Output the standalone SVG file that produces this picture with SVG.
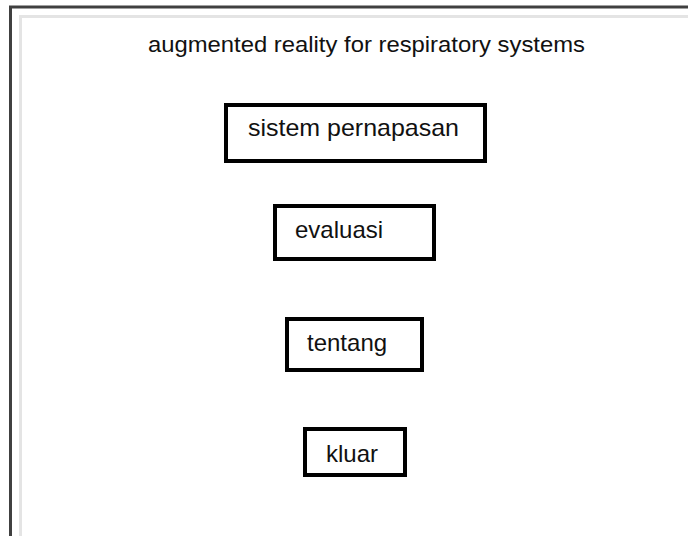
<svg xmlns="http://www.w3.org/2000/svg" width="688" height="536" viewBox="0 0 688 536">
<style>
.frame-outer{fill:none;stroke:#404040;stroke-width:3}
.frame-inner{fill:none;stroke:#e4e4e4;stroke-width:3}
.node rect{fill:#ffffff;stroke:#000000;stroke-width:4}
.node text{font-family:"Liberation Sans",Arial,sans-serif;font-size:24px;fill:#111111}
.title{font-family:"Liberation Sans",Arial,sans-serif;font-size:22px;fill:#111111}
</style>
<rect width="688" height="536" fill="#ffffff"/>
<path class="frame-outer" d="M10.5 536 V7 H688"/>
<path class="frame-inner" d="M20.5 536 V16.5 H688"/>
<text class="title" x="148" y="52" textLength="437" lengthAdjust="spacingAndGlyphs">augmented reality for respiratory systems</text>
<g id="connectors"></g>
<g id="node-sistem" class="node">
<rect x="226" y="105" width="259" height="56"/>
<text x="248" y="136" textLength="211" lengthAdjust="spacingAndGlyphs">sistem pernapasan</text>
</g>
<g id="node-evaluasi" class="node">
<rect x="275" y="206" width="159" height="53"/>
<text x="295" y="238">evaluasi</text>
</g>
<g id="node-tentang" class="node">
<rect x="287" y="319" width="135" height="51"/>
<text x="307" y="351">tentang</text>
</g>
<g id="node-kluar" class="node">
<rect x="305" y="429" width="100" height="46"/>
<text x="326" y="462">kluar</text>
</g>
</svg>
